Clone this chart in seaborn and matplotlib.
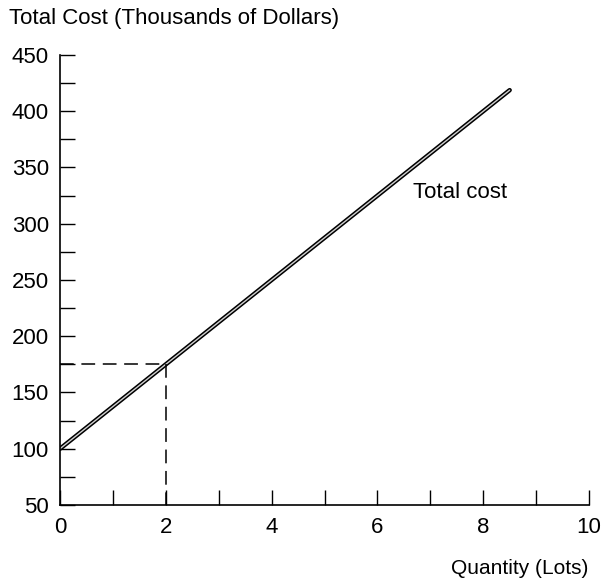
import matplotlib
matplotlib.use("Agg")
import matplotlib.pyplot as plt
import seaborn as sns

# data
quantity = [0, 8.5]
total_cost = [100, 418.75]
guide_x = [0, 2, 2]
guide_y = [175, 175, 50]
x_ticks = [0, 2, 4, 6, 8, 10]
y_ticks = [50, 100, 150, 200, 250, 300, 350, 400, 450]

sns.set_style('ticks')
plt.rcParams['font.family'] = ['Liberation Sans', 'DejaVu Sans']
plt.rcParams['text.color'] = 'black'
plt.rcParams['xtick.color'] = 'black'
plt.rcParams['ytick.color'] = 'black'

fig = plt.figure(figsize=(6.05, 5.85), dpi=100)
ax = fig.add_axes([0.0992, 0.1368, 0.8744, 0.7692])

# double-stroke total cost line
sns.lineplot(x=quantity, y=total_cost, ax=ax, color='black', lw=3.2)
sns.lineplot(x=quantity, y=total_cost, ax=ax, color='#d0d0d0', lw=1.0)

# dashed guides at q = 2
ax.plot(guide_x[:2], guide_y[:2], color='black', lw=1.1, dashes=[9, 5])
ax.plot(guide_x[1:], guide_y[1:], color='black', lw=1.1, dashes=[9, 5])

ax.set_xlim(0, 10)
ax.set_ylim(50, 450)
ax.set_xticks(x_ticks)
ax.set_xticks(range(0, 11), minor=True)
ax.set_yticks(y_ticks)
ax.set_yticks(range(50, 451, 25), minor=True)
ax.tick_params(which='both', direction='in', length=11, width=1.0, color='black')
ax.tick_params(axis='both', which='major', labelsize=16, pad=8)
ax.tick_params(axis='x', pad=9)
sns.despine(ax=ax)
for s in ['left', 'bottom']:
    ax.spines[s].set_linewidth(1.2)
    ax.spines[s].set_color('black')

ax.text(6.67, 328, 'Total cost', fontsize=16, ha='left', va='center')

fig.text(0.015, 0.968, 'Total Cost (Thousands of Dollars)', fontsize=16,
         ha='left', va='center')
fig.text(0.972, 0.028, 'Quantity (Lots)', fontsize=15, ha='right', va='center')

fig.savefig('out.png', dpi=100)
